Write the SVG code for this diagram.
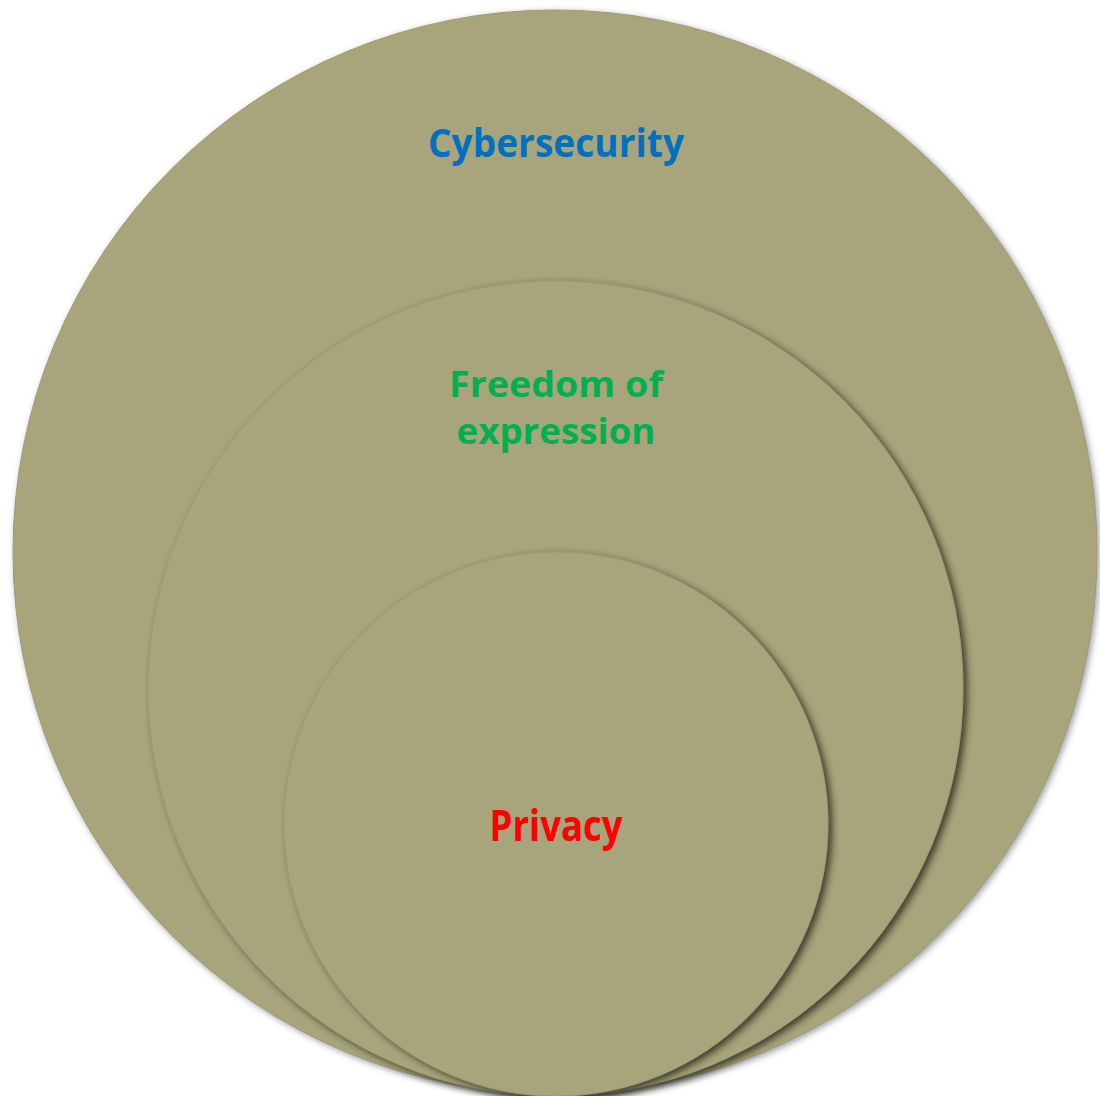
<svg xmlns="http://www.w3.org/2000/svg" width="1100" height="1096" viewBox="0 0 1100 1096">
<defs>
<filter id="sh" x="-10%" y="-10%" width="125%" height="125%">
<feDropShadow dx="4" dy="3" stdDeviation="3.5" flood-color="#262518" flood-opacity="0.8"/>
</filter>
<filter id="sho" x="-10%" y="-10%" width="125%" height="125%">
<feDropShadow dx="2" dy="2" stdDeviation="3" flood-color="#505060" flood-opacity="0.55"/>
</filter>
</defs>
<style>
.c{fill:#A8A57C;stroke:#9d9a72;stroke-width:1}
.t{font-family:"Open Sans","Noto Sans",sans-serif;font-weight:bold;text-anchor:middle}
</style>
<rect width="1100" height="1096" fill="#ffffff"/>
<g id="cybersecurity">
<circle class="c" cx="555" cy="552" r="542" filter="url(#sho)"/>
<text class="t" x="556" y="157" font-size="39" fill="#0070C0" textLength="256" lengthAdjust="spacingAndGlyphs">Cybersecurity</text>
</g>
<g id="freedom">
<circle class="c" cx="555.5" cy="688.5" r="407.5" filter="url(#sh)"/>
<text class="t" x="556" y="397" font-size="35" fill="#00B050" textLength="214" lengthAdjust="spacingAndGlyphs">Freedom of</text>
<text class="t" x="556" y="444" font-size="35" fill="#00B050" textLength="199" lengthAdjust="spacingAndGlyphs">expression</text>
</g>
<g id="privacy">
<circle class="c" cx="556" cy="824" r="272" filter="url(#sh)"/>
<text class="t" x="556" y="841" font-size="43" fill="#FF0000" textLength="133" lengthAdjust="spacingAndGlyphs">Privacy</text>
</g>
<g id="connectors"></g>
</svg>
